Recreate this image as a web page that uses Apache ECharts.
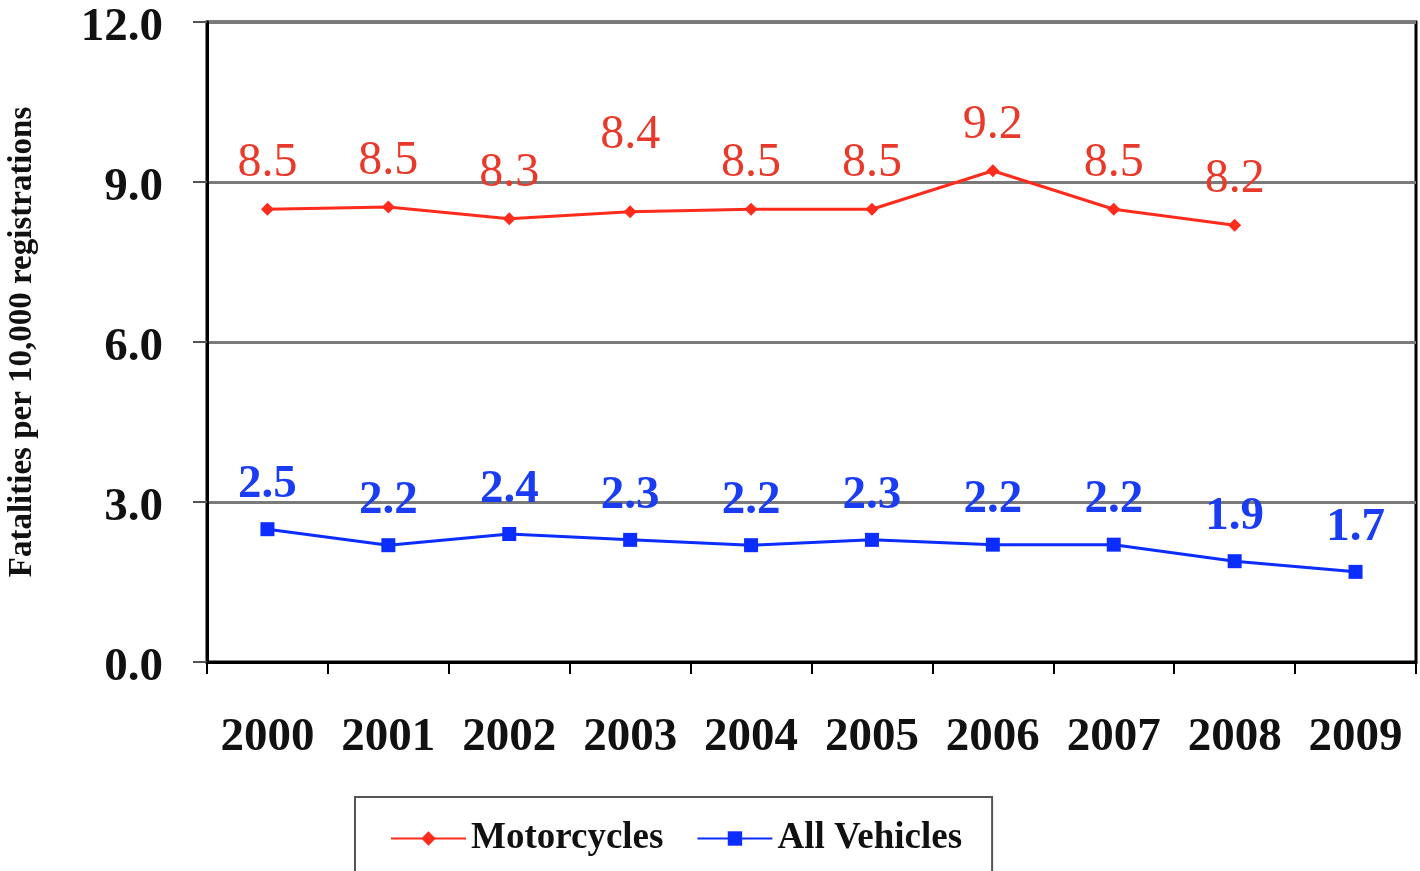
<!DOCTYPE html>
<html>
<head>
<meta charset="utf-8">
<script src="https://cdn.jsdelivr.net/npm/echarts@6/dist/echarts.min.js"></script>
<style>html,body{margin:0;padding:0;background:#fff}#c{width:1420px;height:871px}</style>
</head>
<body>
<div id="c"></div>
<script>
const years = ['2000','2001','2002','2003','2004','2005','2006','2007','2008','2009'];
const motorcycles = [8.49, 8.53, 8.31, 8.44, 8.49, 8.49, 9.21, 8.49, 8.19, null];
const allVehicles = [2.49, 2.19, 2.40, 2.29, 2.19, 2.29, 2.20, 2.20, 1.89, 1.69];
const yTicks = { min: 0, max: 12, interval: 3 };
const yAxisTitle = 'Fatalities per 10,000 registrations';
const seriesNames = ['Motorcycles', 'All Vehicles'];

const FONT = '"Liberation Serif", "DejaVu Serif", serif';
const RED = '#ff2b1c', RED_T = '#e8392b';
const BLUE = '#0b2dff', BLUE_T = '#1a3cf2';

const chart = echarts.init(document.getElementById('c'), null, {renderer: 'canvas'});

function withLabels(arr, special) {
  return arr.map((v, i) => {
    if (v == null) return null;
    if (special && special[i] != null) return { value: v, label: { distance: special[i] } };
    return v;
  });
}

chart.setOption({
  animation: false,
  backgroundColor: '#fff',
  grid: { left: 207, right: 4, top: 22, bottom: 209, show: true, borderColor: '#000', borderWidth: 3, backgroundColor: 'transparent', containLabel: false, outerBoundsMode: 'none' },
  legend: {
    left: 355, top: 797,
    data: seriesNames,
    orient: 'horizontal',
    itemWidth: 75, itemHeight: 18, itemGap: 33,
    padding: [23, 30, 40, 35],
    borderColor: '#555', borderWidth: 2,
    textStyle: { fontFamily: FONT, fontWeight: 'bold', fontSize: 37, color: '#111' }
  },
  xAxis: {
    type: 'category', data: years, boundaryGap: true,
    axisLine: { lineStyle: { color: '#000', width: 3 } },
    axisTick: { show: true, alignWithLabel: false, interval: 0, length: 12, lineStyle: { color: '#000', width: 2 } },
    axisLabel: { interval: 0, margin: 52, fontFamily: FONT, fontWeight: 'bold', fontSize: 47, color: '#111' },
    splitLine: { show: false }
  },
  yAxis: {
    type: 'value', min: yTicks.min, max: yTicks.max, interval: yTicks.interval,
    name: yAxisTitle, nameLocation: 'middle', nameGap: 168, nameRotate: 90,
    nameTextStyle: { fontFamily: FONT, fontWeight: 'bold', fontSize: 33, color: '#111' },
    axisLine: { show: true, lineStyle: { color: '#000', width: 3 } },
    axisTick: { show: true, inside: false, length: 14, lineStyle: { color: '#555', width: 2 } },
    axisLabel: { margin: 44, verticalAlign: 'top', lineHeight: 12, fontFamily: FONT, fontWeight: 'bold', fontSize: 47, color: '#111', formatter: v => v.toFixed(1) },
    splitLine: { show: true, lineStyle: { color: '#7a7a7a', width: 3 } }
  },
  series: [
    {
      name: seriesNames[0], type: 'line', data: withLabels(motorcycles, {3: 46}),
      symbol: 'diamond', symbolSize: 13,
      lineStyle: { color: RED, width: 3 }, itemStyle: { color: RED },
      label: { show: true, position: 'top', distance: 15, fontFamily: FONT, fontSize: 48, color: RED_T, formatter: p => p.value.toFixed(1) }
    },
    {
      name: seriesNames[1], type: 'line', data: allVehicles,
      symbol: 'rect', symbolSize: 14,
      lineStyle: { color: BLUE, width: 3 }, itemStyle: { color: BLUE },
      label: { show: true, position: 'top', distance: 14, fontFamily: FONT, fontWeight: 'bold', fontSize: 47, color: BLUE_T, formatter: p => p.value.toFixed(1) }
    }
  ]
});
</script>
</body>
</html>
